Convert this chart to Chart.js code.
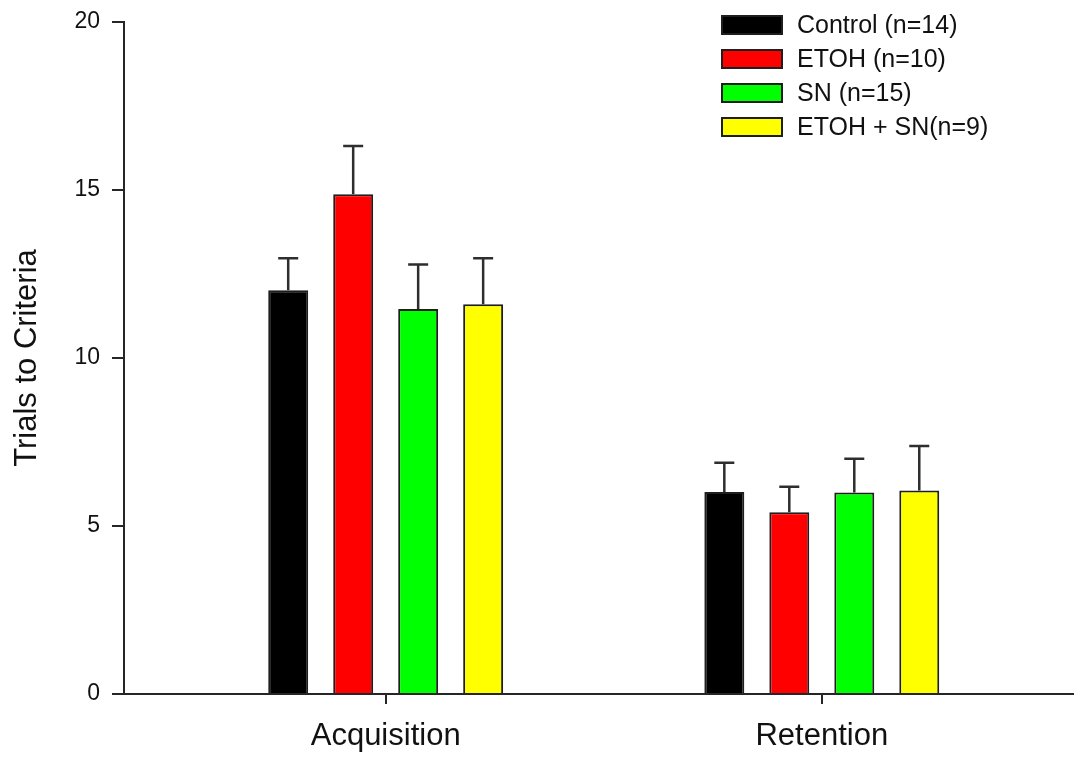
<!DOCTYPE html>
<html>
<head>
<meta charset="utf-8">
<script src="https://cdn.jsdelivr.net/npm/chart.js@4/dist/chart.umd.min.js"></script>
<style>
  html, body { margin: 0; padding: 0; background: #fff; }
  #wrap { width: 1075px; height: 758px; }
</style>
</head>
<body>
<div id="wrap"><canvas id="trialsChart" width="1075" height="758"></canvas></div>
<script>
// phases on the x axis, placed at x = 1, 2 on a linear scale
const categories = ['Acquisition', 'Retention'];
const groupLabels = ['Control (n=14)', 'ETOH (n=10)', 'SN (n=15)', 'ETOH + SN(n=9)'];
const barColors = ['#000000', '#ff0000', '#00ff00', '#ffff00'];

// means (trials to criteria)
const controlMeans = [12.02, 6.01];
const etohMeans = [14.87, 5.41];
const snMeans = [11.46, 6.00];
const etohSnMeans = [11.60, 6.06];

// upward error bars (SEM)
const controlErr = [0.95, 0.87];
const etohErr = [1.44, 0.76];
const snErr = [1.32, 1.00];
const etohSnErr = [1.37, 1.32];

const yTicks = [0, 5, 10, 15, 20];

const FONT = "'Liberation Sans', Arial, sans-serif";
const INK = '#111';
const AXIS = '#262626';

const means = [controlMeans, etohMeans, snMeans, etohSnMeans];
const errs = [controlErr, etohErr, snErr, etohSnErr];

const datasets = means.map((vals, i) => ({
    label: groupLabels[i],
    data: vals.map((v, j) => ({ x: j + 1, y: v })),
    err: errs[i],
    backgroundColor: barColors[i],
    borderColor: '#1e1e1e',
    borderWidth: 2,
    categoryPercentage: 0.596,
    barPercentage: 0.615
}));

// error bars: stem from top of bar up to mean + err, with a cap
const errorBars = {
    id: 'errorBars',
    afterDatasetsDraw(chart) {
        const ctx = chart.ctx;
        const y = chart.scales.y;
        ctx.save();
        ctx.strokeStyle = '#2e2e2e';
        ctx.lineWidth = 2.5;
        chart.data.datasets.forEach((ds, i) => {
            const meta = chart.getDatasetMeta(i);
            meta.data.forEach((bar, j) => {
                const top = y.getPixelForValue(ds.data[j].y + ds.err[j]);
                ctx.beginPath();
                ctx.moveTo(bar.x, bar.y);
                ctx.lineTo(bar.x, top);
                ctx.moveTo(bar.x - 10, top);
                ctx.lineTo(bar.x + 10, top);
                ctx.stroke();
            });
        });
        ctx.restore();
    }
};

// legend drawn inside the plot, top right, as in the original
const boxLegend = {
    id: 'boxLegend',
    afterDraw(chart) {
        const ctx = chart.ctx;
        ctx.save();
        ctx.font = '25px ' + FONT;
        ctx.textBaseline = 'middle';
        chart.data.datasets.forEach((ds, i) => {
            const cy = 25 + i * 34;
            ctx.fillStyle = ds.backgroundColor;
            ctx.fillRect(722, cy - 9, 60, 18);
            ctx.strokeStyle = '#1e1e1e';
            ctx.lineWidth = 2;
            ctx.strokeRect(722, cy - 9, 60, 18);
            ctx.fillStyle = INK;
            ctx.fillText(ds.label, 797, cy + 1);
        });
        ctx.restore();
    }
};

new Chart(document.getElementById('trialsChart'), {
    type: 'bar',
    data: { datasets: datasets },
    options: {
        responsive: false,
        animation: false,
        layout: { padding: { top: 22, right: 2, left: 0, bottom: 0 } },
        plugins: {
            legend: { display: false },
            tooltip: { enabled: false }
        },
        scales: {
            x: {
                type: 'linear',
                min: 0.4,
                max: 2.576,
                offset: false,
                afterBuildTicks: (scale) => {
                    scale.ticks = categories.map((c, i) => ({ value: i + 1 }));
                },
                afterFit: (scale) => { scale.height = 64; },
                ticks: {
                    callback: (v) => categories[v - 1] || '',
                    color: INK,
                    padding: 14,
                    maxRotation: 0,
                    font: { family: FONT, size: 31 }
                },
                grid: {
                    offset: false,
                    drawOnChartArea: false,
                    drawTicks: true,
                    tickLength: 10,
                    color: AXIS,
                    lineWidth: 2
                },
                border: { display: true, color: AXIS, width: 2 }
            },
            y: {
                min: 0,
                max: 20,
                afterBuildTicks: (scale) => {
                    scale.ticks = yTicks.map(v => ({ value: v }));
                },
                afterFit: (scale) => {
                    scale.width = 124;
                    scale.paddingTop = 0;
                    scale.paddingBottom = 0;
                },
                ticks: {
                    color: INK,
                    padding: 12,
                    font: { family: FONT, size: 23 }
                },
                grid: {
                    drawOnChartArea: false,
                    drawTicks: true,
                    tickLength: 12,
                    color: AXIS,
                    lineWidth: 2
                },
                border: { display: true, color: AXIS, width: 2 },
                title: {
                    display: true,
                    text: 'Trials to Criteria',
                    color: INK,
                    padding: { top: 9, bottom: 0 },
                    font: { family: FONT, size: 31 }
                }
            }
        }
    },
    plugins: [errorBars, boxLegend]
});
</script>
</body>
</html>
